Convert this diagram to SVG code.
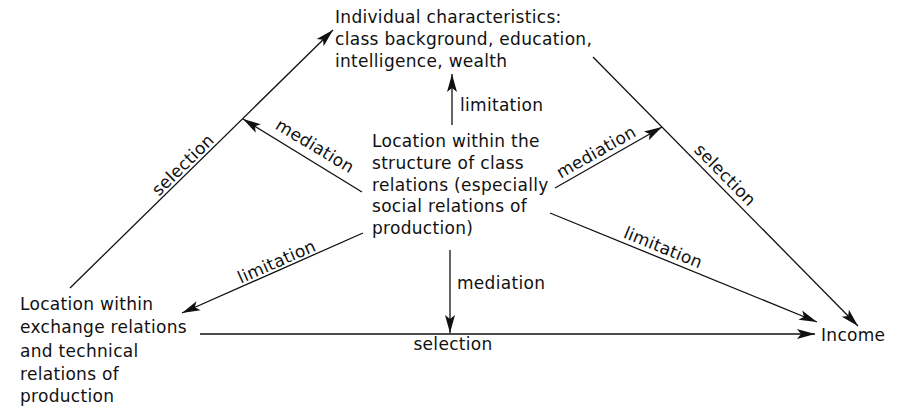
<svg xmlns="http://www.w3.org/2000/svg" width="898" height="409" viewBox="0 0 898 409">
<style>
text{font-family:"DejaVu Sans","Liberation Sans",sans-serif;font-size:17px;fill:#111;letter-spacing:0.3px}
.c line{stroke:#111;stroke-width:1.3;fill:none}
.a{marker-end:url(#ah)}
.lb{text-anchor:middle}
</style>
<defs>
<marker id="ah" markerUnits="userSpaceOnUse" markerWidth="20" markerHeight="12" viewBox="0 -6 19 12" refX="18" refY="0" orient="auto">
<path d="M0,-5 L18,0 L0,5 L4,0 z" fill="#111"/>
</marker>
</defs>
<rect width="898" height="409" fill="#fff"/>
<g id="individual">
<text x="335" y="23">Individual characteristics:</text>
<text x="335" y="45">class background, education,</text>
<text x="335" y="67">intelligence, wealth</text>
</g>
<g id="class-location">
<text x="372" y="147">Location within the</text>
<text x="372" y="169">structure of class</text>
<text x="372" y="190.5">relations (especially</text>
<text x="372" y="212">social relations of</text>
<text x="372" y="234">production)</text>
</g>
<g id="exchange-location">
<text x="20" y="310">Location within</text>
<text x="20" y="333">exchange relations</text>
<text x="20" y="357">and technical</text>
<text x="20" y="380">relations of</text>
<text x="20" y="402">production</text>
</g>
<g id="income">
<text x="821" y="341">Income</text>
</g>
<g id="connectors" class="c">
<line class="a" x1="70" y1="288" x2="333" y2="30"/>
<line x1="593" y1="57" x2="858" y2="326" class="a"/>
<line class="a" x1="362" y1="192" x2="243" y2="119"/>
<line class="a" x1="555" y1="188" x2="662" y2="127"/>
<line class="a" x1="452" y1="125" x2="452" y2="74"/>
<line class="a" x1="363" y1="233" x2="182" y2="313"/>
<line class="a" x1="550" y1="213" x2="817" y2="322"/>
<line class="a" x1="450" y1="250" x2="450" y2="333"/>
<line class="a" x1="200" y1="334" x2="815" y2="334"/>
<g id="labels">
<text class="lb" transform="translate(187 169) rotate(-44.4)">selection</text>
<text class="lb" transform="translate(312 151) rotate(31.2)">mediation</text>
<text class="lb" transform="translate(599 157) rotate(-29.7)">mediation</text>
<text class="lb" transform="translate(721 179) rotate(45.4)">selection</text>
<text class="lb" transform="translate(661 253) rotate(22.2)">limitation</text>
<text class="lb" transform="translate(279 267) rotate(-23.8)">limitation</text>
<text x="460" y="111">limitation</text>
<text x="457" y="289">mediation</text>
<text x="453" y="350" class="lb">selection</text>
</g>
</g>
</svg>
